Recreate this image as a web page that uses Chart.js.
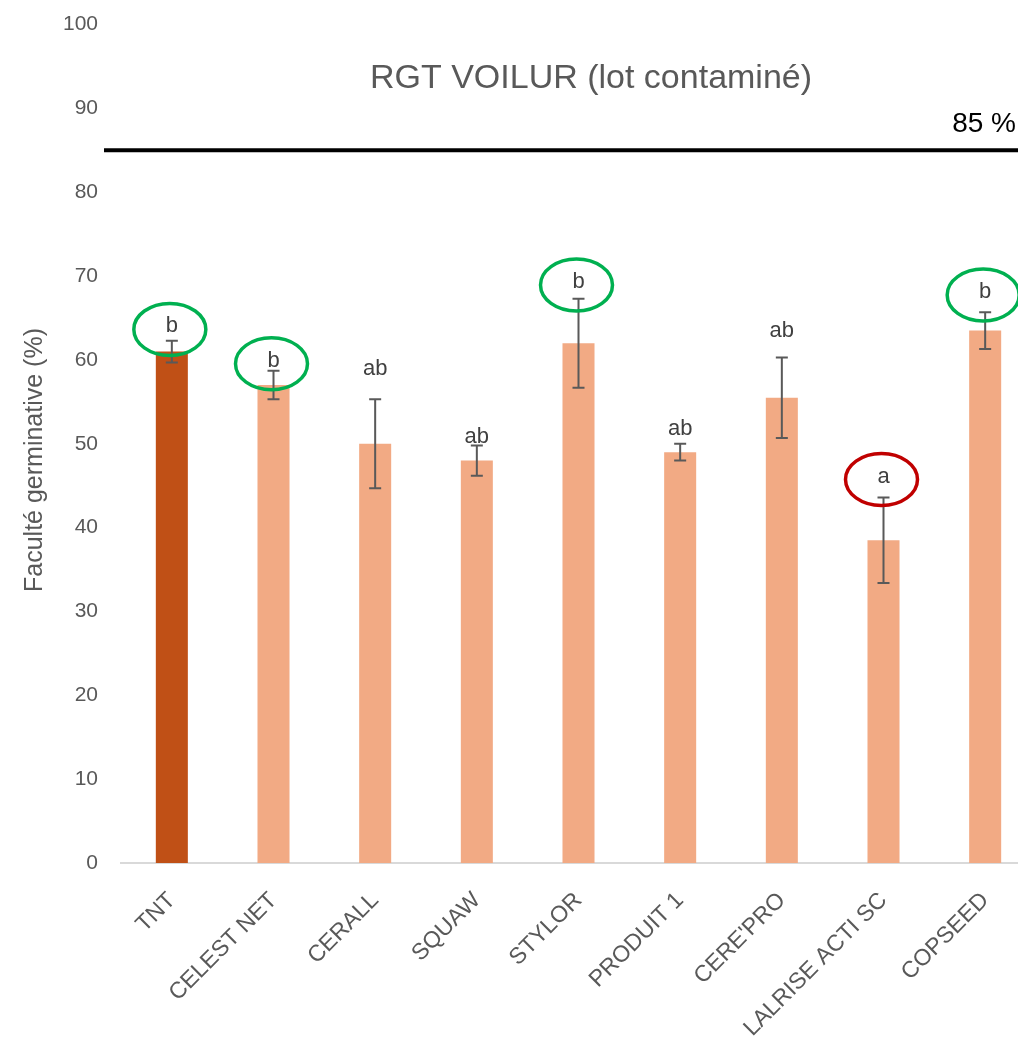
<!DOCTYPE html>
<html>
<head>
<meta charset="utf-8">
<script src="https://cdn.jsdelivr.net/npm/chart.js@4.4.1/dist/chart.umd.min.js"></script>
<style>
    html, body { margin: 0; padding: 0; background: #ffffff; overflow: hidden; }
    #wrap { width: 1040px; height: 1052px; position: relative; margin-top: -11px; }
</style>
</head>
<body>
<div id="wrap"><canvas id="fgChart"></canvas></div>
<script>
// ================================================
// RGT VOILUR - faculté germinative par traitement
// ================================================

const categories = ['TNT', 'CELEST NET', 'CERALL', 'SQUAW', 'STYLOR', 'PRODUIT 1', "CERE'PRO", 'LALRISE ACTI SC', 'COPSEED'];
const germValues = [61, 57, 50, 48, 62, 49, 55.5, 38.5, 63.5];
const errorValues = [1.3, 1.7, 5.3, 1.8, 5.3, 1.0, 4.8, 5.1, 2.2];
const groupLetters = ['b', 'b', 'ab', 'ab', 'b', 'ab', 'ab', 'a', 'b'];
const letterHeights = [64.0, 59.9, 58.9, 50.8, 69.3, 51.8, 63.5, 46.1, 68.1];
const letterCircles = ['green', 'green', null, null, 'green', null, null, 'red', 'green'];
const yTicks = [0, 10, 20, 30, 40, 50, 60, 70, 80, 90, 100];
const thresholdValue = 85;
const thresholdLabel = '85 %';
const chartTitle = 'RGT VOILUR (lot contaminé)';
const yAxisTitle = 'Faculté germinative (%)';

const FONT = "'Liberation Sans', Arial, sans-serif";
const GREY_TEXT = '#595959';
const circleColors = { green: '#00B050', red: '#C00000' };
const PAGE_SHIFT = 11; // canvas is pulled up by this much (see #wrap)

// Bar colours: control darker
const barColors = categories.map((c, i) => i === 0 ? '#C05016' : '#F2AA84');

// Error bars, letters, circles, threshold and titles
const annotationsPlugin = {
    id: 'annotations',
    afterDatasetsDraw(chart) {
        const { ctx, scales } = chart;
        const meta = chart.getDatasetMeta(0);
        ctx.save();

        // error bars
        ctx.strokeStyle = '#595959';
        ctx.lineWidth = 2;
        meta.data.forEach((bar, i) => {
            const x = bar.x;
            const yHi = scales.y.getPixelForValue(germValues[i] + errorValues[i]);
            const yLo = scales.y.getPixelForValue(germValues[i] - errorValues[i]);
            ctx.beginPath();
            ctx.moveTo(x, yHi); ctx.lineTo(x, yLo);
            ctx.moveTo(x - 6, yHi); ctx.lineTo(x + 6, yHi);
            ctx.moveTo(x - 6, yLo); ctx.lineTo(x + 6, yLo);
            ctx.stroke();
        });

        // letters
        ctx.fillStyle = '#404040';
        ctx.font = '22px ' + FONT;
        ctx.textAlign = 'center';
        ctx.textBaseline = 'middle';
        meta.data.forEach((bar, i) => {
            const y = scales.y.getPixelForValue(letterHeights[i]);
            ctx.fillText(groupLetters[i], bar.x, y);
        });

        // circles round significant letters
        ctx.lineWidth = 3.5;
        meta.data.forEach((bar, i) => {
            if (!letterCircles[i]) return;
            const y = scales.y.getPixelForValue(letterHeights[i]);
            ctx.strokeStyle = circleColors[letterCircles[i]];
            ctx.beginPath();
            ctx.ellipse(bar.x - 2, y + 3, 36, 26, 0, 0, Math.PI * 2);
            ctx.stroke();
        });

        // threshold line 85 %
        const yT = scales.y.getPixelForValue(thresholdValue);
        ctx.strokeStyle = '#000000';
        ctx.lineWidth = 4;
        ctx.beginPath();
        ctx.moveTo(chart.chartArea.left - 17, yT);
        ctx.lineTo(chart.width, yT);
        ctx.stroke();
        ctx.fillStyle = '#000000';
        ctx.font = '28px ' + FONT;
        ctx.textAlign = 'right';
        ctx.textBaseline = 'alphabetic';
        ctx.fillText(thresholdLabel, 1016, yT - 18);

        // title (drawn over plot area)
        ctx.fillStyle = GREY_TEXT;
        ctx.font = '34px ' + FONT;
        ctx.textAlign = 'center';
        ctx.textBaseline = 'middle';
        ctx.fillText(chartTitle, 591, 79 + PAGE_SHIFT);

        // y axis title
        ctx.translate(35, 460 + PAGE_SHIFT);
        ctx.rotate(-Math.PI / 2);
        ctx.font = '25px ' + FONT;
        ctx.fillText(yAxisTitle, 0, 0);

        ctx.restore();
    }
};

const ctx = document.getElementById('fgChart');
const fgChart = new Chart(ctx, {
    type: 'bar',
    data: {
        labels: categories,
        datasets: [{
            label: yAxisTitle,
            data: germValues,
            backgroundColor: barColors,
            borderWidth: 0,
            barPercentage: 0.63,
            categoryPercentage: 0.5
        }]
    },
    options: {
        responsive: true,
        maintainAspectRatio: false,
        animation: false,
        layout: { padding: { top: 2, right: 4, left: 22, bottom: 0 } },
        plugins: {
            legend: { display: false },
            title: { display: false },
            tooltip: { enabled: false }
        },
        scales: {
            x: {
                grid: { display: false, drawTicks: false },
                border: { display: true, color: '#D9D9D9', width: 2 },
                ticks: {
                    color: GREY_TEXT,
                    font: { family: FONT, size: 23 },
                    maxRotation: 45,
                    minRotation: 45,
                    padding: 24,
                    autoSkip: false
                },
                afterFit(scale) { scale.height = 178; }
            },
            y: {
                min: 0,
                max: 100,
                afterBuildTicks(scale) { scale.ticks = yTicks.map(v => ({ value: v })); },
                grid: { display: false, drawTicks: false },
                border: { display: false },
                ticks: {
                    color: GREY_TEXT,
                    font: { family: FONT, size: 21 },
                    padding: 23
                },
                title: { display: false },
                afterFit(scale) { scale.width = 99; }
            }
        }
    },
    plugins: [annotationsPlugin]
});
</script>
</body>
</html>
